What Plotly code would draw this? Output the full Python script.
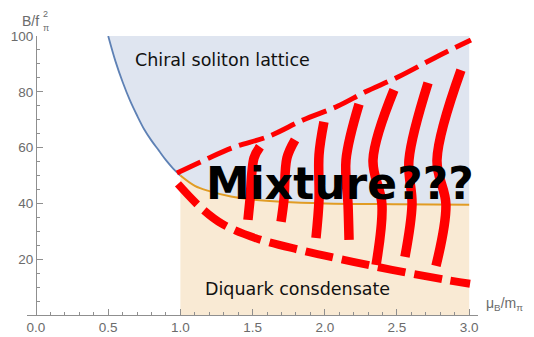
import plotly.graph_objects as go

# ---------------- data ----------------
# Chiral-soliton-lattice onset (blue boundary)
csl_mu = [0.5, 0.55, 0.6, 0.65, 0.7, 0.75, 0.8, 0.85, 0.9, 0.95, 1.0]
csl_B = [100, 91, 83.5, 77, 71.5, 66.5, 62.5, 59, 55.5, 52.5, 50]

# Diquark-condensate boundary (orange)
dq_mu = [1.0, 1.1, 1.2, 1.35, 1.5, 1.7, 2.0, 2.5, 3.0]
dq_B = [50, 46.3, 44.4, 42.5, 41.4, 40.6, 40.0, 39.7, 39.5]

# Hand-drawn red marks
upper_mu = [0.976, 1.17, 1.357, 1.62, 1.849, 2.091, 2.278, 2.507, 2.763, 3.012]
upper_B = [50.9, 55.6, 59.9, 64.2, 69.9, 74.9, 79.9, 85.3, 92.2, 98.6]

lower_mu = [0.983, 1.143, 1.288, 1.517, 1.828, 2.14, 2.465, 2.839, 3.006]
lower_B = [47.0, 38.4, 32.7, 27.6, 23.3, 19.7, 16.2, 12.6, 11.2]

hatch_mu = [
    [1.551, 1.510, 1.482, 1.468],
    [1.794, 1.738, 1.717, 1.697],
    [1.994, 1.960, 1.960, 1.939],
    [2.237, 2.147, 2.161, 2.168],
    [2.479, 2.334, 2.396, 2.355],
    [2.715, 2.583, 2.604, 2.555],
    [2.943, 2.777, 2.839, 2.770],
]
hatch_B = [
    [60.3, 56.3, 41.3, 34.1],
    [62.8, 56.3, 41.3, 33.4],
    [69.2, 57.4, 41.3, 27.6],
    [75.6, 55.6, 39.5, 26.9],
    [80.7, 55.6, 39.5, 17.9],
    [83.2, 55.6, 39.5, 20.8],
    [87.8, 55.6, 39.5, 17.6],
]

x_ticks = [0, 0.5, 1.0, 1.5, 2.0, 2.5, 3.0]
y_ticks = [20, 40, 60, 80, 100]
MU_MAX = 3.0
B_MAX = 100

# ---------------- styling ----------------
BLUE = "#5E81B5"
ORANGE = "#E19C24"
BLUE_FILL = "rgb(223,229,240)"
ORANGE_FILL = "rgb(249,234,212)"
RED = "#FF0000"
AXIS = "#8f8f8f"
TICKTXT = "#6b6b6b"

X_RANGE = [-0.0623, 3.061]
Y_RANGE = [0, 100]

fig = go.Figure()

# blue region
fig.add_trace(go.Scatter(
    x=csl_mu + dq_mu + [MU_MAX, csl_mu[0]],
    y=csl_B + dq_B + [B_MAX, B_MAX],
    fill="toself", fillcolor=BLUE_FILL, mode="lines",
    line=dict(width=0), hoverinfo="skip", showlegend=False))

# orange region
fig.add_trace(go.Scatter(
    x=dq_mu, y=dq_B, fill="tozeroy", fillcolor=ORANGE_FILL, mode="lines",
    line=dict(width=0), hoverinfo="skip", showlegend=False))

# boundary lines
fig.add_trace(go.Scatter(x=csl_mu, y=csl_B, mode="lines",
                         line=dict(color=BLUE, width=1.8, shape="spline"),
                         showlegend=False))
fig.add_trace(go.Scatter(x=dq_mu, y=dq_B, mode="lines",
                         line=dict(color=ORANGE, width=2, shape="spline"),
                         showlegend=False))

# red hand-drawn marks
fig.add_trace(go.Scatter(x=upper_mu, y=upper_B, mode="lines",
                         line=dict(color=RED, width=5, dash="26px,8px", shape="spline"),
                         showlegend=False))
fig.add_trace(go.Scatter(x=lower_mu, y=lower_B, mode="lines",
                         line=dict(color=RED, width=8, dash="28px,9px", shape="spline"),
                         showlegend=False))
for hx, hy in zip(hatch_mu, hatch_B):
    fig.add_trace(go.Scatter(x=hx, y=hy, mode="lines",
                             line=dict(color=RED, width=9.5, shape="spline"),
                             showlegend=False))

# texts
fig.add_annotation(x=1.29, y=91.4, text="Chiral soliton lattice", showarrow=False,
                   font=dict(family="DejaVu Sans", size=17.5, color="#111111"),
                   xanchor="center", yanchor="middle")
fig.add_annotation(x=1.81, y=9.5, text="Diquark consdensate", showarrow=False,
                   font=dict(family="DejaVu Sans", size=17.5, color="#111111"),
                   xanchor="center", yanchor="middle")
fig.add_annotation(x=1.165, y=47.0, text="<b>Mixture???</b>", showarrow=False,
                   font=dict(family="DejaVu Sans", size=44, color="#000000"),
                   xanchor="left", yanchor="middle")

# axis labels
fig.add_annotation(xref="paper", yref="paper", x=1.013, y=0.04,
                   text="μ<sub>B</sub>/m<sub>π</sub>", showarrow=False,
                   font=dict(family="Liberation Sans", size=14, color=TICKTXT),
                   xanchor="left", yanchor="middle")
fig.add_annotation(xref="paper", yref="paper", x=0.031, y=1.054,
                   text="B/f", showarrow=False,
                   font=dict(family="Liberation Sans", size=14, color=TICKTXT),
                   xanchor="right", yanchor="middle")
fig.add_annotation(xref="paper", yref="paper", x=0.0305, y=1.03,
                   text="π", showarrow=False,
                   font=dict(family="Liberation Sans", size=9, color=TICKTXT),
                   xanchor="left", yanchor="middle")
fig.add_annotation(xref="paper", yref="paper", x=0.0305, y=1.079,
                   text="2", showarrow=False,
                   font=dict(family="Liberation Sans", size=9, color=TICKTXT),
                   xanchor="left", yanchor="middle")

# the page body has an 8px margin, so the figure is sized/margined to compensate
fig.update_layout(
    width=526, height=329,
    margin=dict(l=19, r=56, t=28, b=22, autoexpand=False),
    plot_bgcolor="white", paper_bgcolor="white",
    xaxis=dict(range=X_RANGE, tickvals=x_ticks, tickformat=".1f", automargin=False,
               showgrid=False, zeroline=False, showline=True, linecolor=AXIS,
               linewidth=1, ticks="inside", ticklen=6, tickcolor=AXIS,
               tickfont=dict(family="Liberation Sans", size=13.5, color=TICKTXT),
               minor=dict(dtick=0.1, tick0=0, ticks="inside", ticklen=3.5,
                          tickcolor=AXIS, showgrid=False)),
    yaxis=dict(range=Y_RANGE, tickvals=y_ticks, anchor="free", automargin=False,
               position=(0 - X_RANGE[0]) / (X_RANGE[1] - X_RANGE[0]),
               showgrid=False, zeroline=False, showline=True, linecolor=AXIS,
               linewidth=1, ticks="inside", ticklen=6, tickcolor=AXIS,
               tickfont=dict(family="Liberation Sans", size=13.5, color=TICKTXT),
               minor=dict(dtick=5, tick0=0, ticks="inside", ticklen=3.5,
                          tickcolor=AXIS, showgrid=False)),
)

fig.write_html("out.html")
